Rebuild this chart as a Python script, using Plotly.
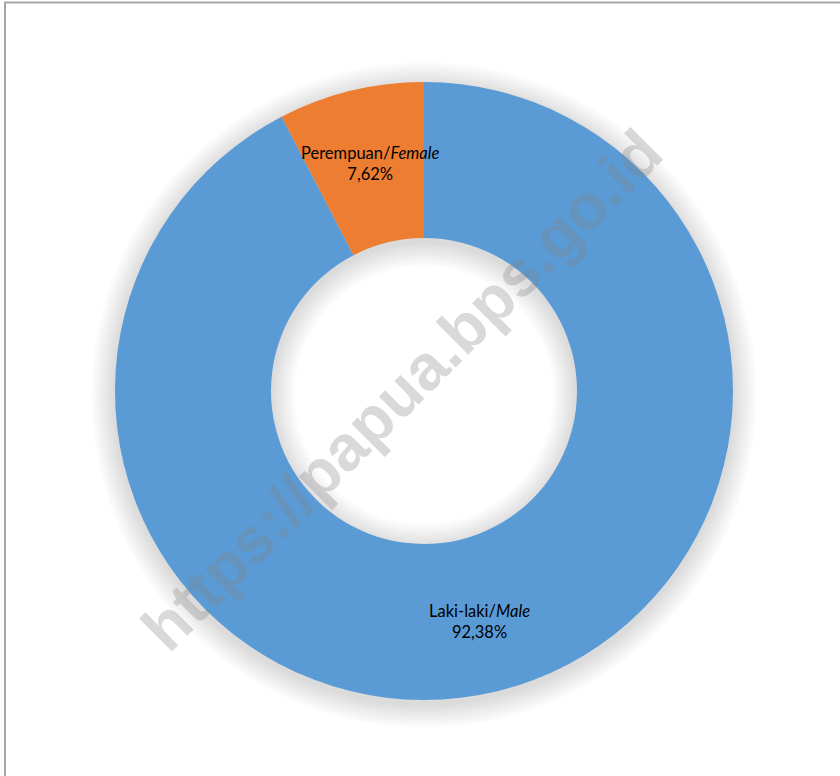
import plotly.graph_objects as go

labels = ["Laki-laki/<i>Male</i>", "Perempuan/<i>Female</i>"]
values = [92.38, 7.62]
value_text = ["92,38%", "7,62%"]
colors = ["#5B9BD5", "#ED7D31"]

W, H = 840, 776
cx, cy = 424, 391          # donut centre in pixels (from top)
R, r_in = 309, 153         # outer / inner radius in px

def dom(cxp, cyp, rad):
    return dict(x=[(cxp - rad) / W, (cxp + rad) / W],
                y=[(H - cyp - rad) / H, (H - cyp + rad) / H])

fig = go.Figure()

# soft blurred drop shadow: stacked translucent grey rings, offset slightly downward
for d in range(24, 0, -2):
    ro, ri = R + d, max(r_in - d, 1)
    fig.add_trace(go.Pie(
        values=[1], labels=["s"], hole=ri / ro, sort=False,
        marker=dict(colors=["rgba(0,0,0,0.013)"], line=dict(width=0)),
        textinfo="none", hoverinfo="skip", showlegend=False,
        domain=dom(cx, cy + 4, ro)))

fig.add_trace(go.Pie(
    labels=labels, values=values, hole=r_in / R, sort=False,
    direction="counterclockwise",
    marker=dict(colors=colors, line=dict(width=0)),
    textinfo="none", showlegend=False,
    domain=dom(cx, cy, R)))

# slice labels
label_pos = [(479, 621), (370, 163)]
for lab, vt, (px, py) in zip(labels, value_text, label_pos):
    fig.add_annotation(x=px / W, y=1 - py / H, xref="paper", yref="paper",
                       xanchor="center", yanchor="middle",
                       text=f"{lab}<br>{vt}", showarrow=False,
                       font=dict(family="Lato", size=16.5, color="#000000"),
                       align="center")

# watermark
fig.add_annotation(x=402 / W, y=1 - 390 / H, xref="paper", yref="paper",
                   xanchor="center", yanchor="middle",
                   text="<b>https://papua.bps.go.id</b>", showarrow=False,
                   textangle=-45,
                   font=dict(family="Liberation Sans", size=64,
                             color="rgba(128,128,128,0.3)"))

# chart border (left and top visible)
fig.add_shape(type="rect", xref="paper", yref="paper",
              x0=5 / W, x1=1.05, y0=-0.05, y1=1 - 2.5 / H,
              line=dict(color="#A6A6A6", width=2))

fig.update_layout(width=W, height=H, margin=dict(l=0, r=0, t=0, b=0),
                  paper_bgcolor="white", plot_bgcolor="white")

fig.write_html("out.html", config={"displayModeBar": False},
               post_script="document.body.style.margin='0';document.body.style.overflow='hidden';")
